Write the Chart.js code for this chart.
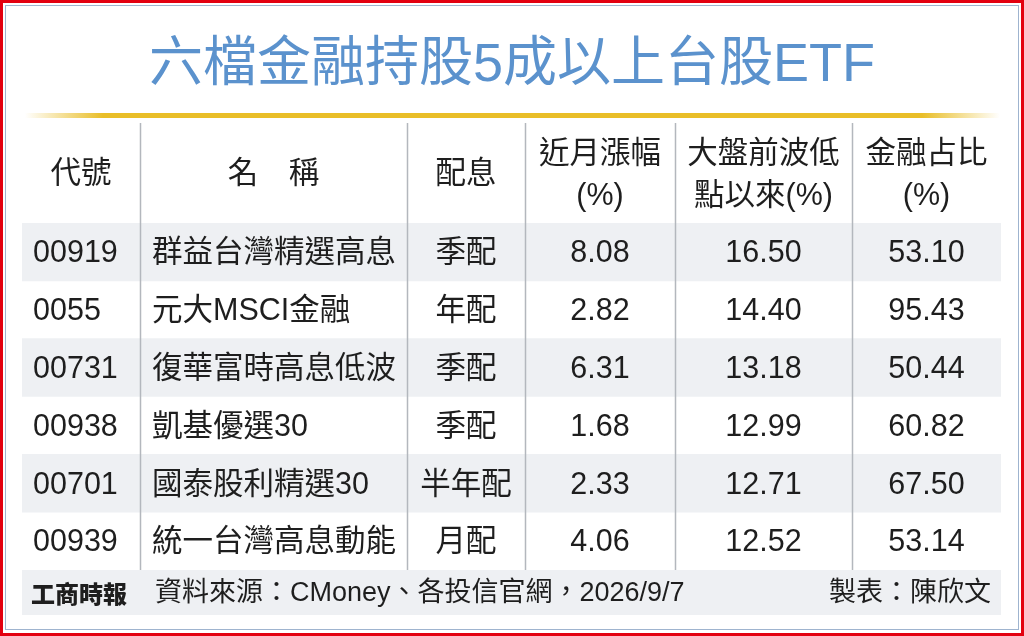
<!DOCTYPE html>
<html>
<head>
<meta charset="utf-8">
<script src="https://cdn.jsdelivr.net/npm/chart.js@4/dist/chart.umd.min.js"></script>
<style>
  html, body { margin: 0; padding: 0; background: #fff; }
  canvas { display: block; }
</style>
</head>
<body>
<canvas id="chart" width="1024" height="636"></canvas>
<script>
var title = '六檔金融持股5成以上台股ETF'
var headers = [['代號'], ['名　稱'], ['配息'], ['近月漲幅', '(%)'], ['大盤前波低', '點以來(%)'], ['金融占比', '(%)']]
var codes = ['00919', '0055', '00731', '00938', '00701', '00939']
var names = ['群益台灣精選高息', '元大MSCI金融', '復華富時高息低波', '凱基優選30', '國泰股利精選30', '統一台灣高息動能']
var payout = ['季配', '年配', '季配', '季配', '半年配', '月配']
var monthChange = [8.08, 2.82, 6.31, 1.68, 2.33, 4.06]
var sinceLow = [16.50, 14.40, 13.18, 12.99, 12.71, 12.52]
var financeShare = [53.10, 95.43, 50.44, 60.82, 67.50, 53.14]
var brand = '工商時報'
var source = '資料來源：CMoney、各投信官網，2026/9/7'
var maker = '製表：陳欣文'

// layout: column edges in x-scale units (scale runs 0..979 across the table)
var colEdges = [0, 118, 385, 503, 653, 830, 979]
var FONT = '"Liberation Sans", "Noto Sans CJK TC", sans-serif'
var INK = '#1e1e1e'
var STRIPE = '#eef0f3'

var colCenter = function (i) { return (colEdges[i] + colEdges[i + 1]) / 2 }

var tablePlugin = {
  id: 'table',
  beforeDraw: function (chart) {
    var ctx = chart.ctx
    var area = chart.chartArea
    var x = chart.scales.x
    ctx.save()
    ctx.fillStyle = '#fff'
    ctx.fillRect(0, 0, chart.width, chart.height)

    // frame
    ctx.strokeStyle = '#e3000f'
    ctx.lineWidth = 3
    ctx.strokeRect(1.5, 1.5, chart.width - 3, chart.height - 3)
    ctx.strokeStyle = '#9fb4cf'
    ctx.lineWidth = 1
    ctx.strokeRect(5.5, 5.5, chart.width - 11, chart.height - 12)

    // title
    ctx.fillStyle = '#5b92cd'
    ctx.font = '400 54px ' + FONT
    ctx.textAlign = 'center'
    ctx.textBaseline = 'middle'
    ctx.fillText(title, chart.width / 2, 66)

    // gold rule
    var g = ctx.createLinearGradient(25, 0, 1000, 0)
    g.addColorStop(0, 'rgba(233,190,40,0)')
    g.addColorStop(0.08, '#e9be28')
    g.addColorStop(0.92, '#e9be28')
    g.addColorStop(1, 'rgba(233,190,40,0)')
    ctx.fillStyle = g
    ctx.fillRect(25, 113, 975, 5)

    // footer band
    ctx.fillStyle = STRIPE
    ctx.fillRect(x.getPixelForValue(0), area.bottom, x.getPixelForValue(979) - x.getPixelForValue(0), 45)
    ctx.restore()
  },
  afterDatasetsDraw: function (chart) {
    var ctx = chart.ctx
    var area = chart.chartArea
    var x = chart.scales.x
    var y = chart.scales.y
    ctx.save()

    // column separators
    ctx.strokeStyle = '#b3b7bd'
    ctx.lineWidth = 1.5
    for (var c = 1; c < colEdges.length - 1; c++) {
      var px = Math.round(x.getPixelForValue(colEdges[c])) + 0.5
      ctx.beginPath()
      ctx.moveTo(px, area.top - 100)
      ctx.lineTo(px, area.bottom)
      ctx.stroke()
    }

    // header
    ctx.fillStyle = INK
    ctx.font = '30.5px ' + FONT
    ctx.textAlign = 'center'
    ctx.textBaseline = 'middle'
    headers.forEach(function (lines, i) {
      var cx = x.getPixelForValue(colCenter(i))
      if (lines.length === 1) {
        ctx.fillText(lines[0], cx, area.top - 48)
      } else {
        ctx.fillText(lines[0], cx, area.top - 68)
        ctx.fillText(lines[1], cx, area.top - 26)
      }
    })

    // body cells
    codes.forEach(function (code, i) {
      var cy = y.getPixelForValue(i) + 2
      ctx.textAlign = 'left'
      ctx.fillText(code, x.getPixelForValue(11), cy)
      ctx.fillText(names[i], x.getPixelForValue(130), cy)
      ctx.textAlign = 'center'
      ctx.fillText(payout[i], x.getPixelForValue(colCenter(2)), cy)
      ctx.fillText(monthChange[i].toFixed(2), x.getPixelForValue(colCenter(3)), cy)
      ctx.fillText(sinceLow[i].toFixed(2), x.getPixelForValue(colCenter(4)), cy)
      ctx.fillText(financeShare[i].toFixed(2), x.getPixelForValue(colCenter(5)), cy)
    })

    // footer
    var fy = area.bottom + 24
    ctx.textAlign = 'left'
    ctx.font = '900 24px "Noto Sans CJK TC", sans-serif'
    ctx.fillText(brand, 31, fy)
    ctx.font = '27px ' + FONT
    ctx.fillText(source, 155, fy)
    ctx.textAlign = 'right'
    ctx.font = '27px ' + FONT
    ctx.fillText(maker, 991, fy)
    ctx.restore()
  }
}

new Chart(document.getElementById('chart'), {
  type: 'bar',
  data: {
    labels: codes,
    datasets: [{
      // alternate row shading
      data: codes.map(function (c, i) { return i % 2 === 0 ? [colEdges[0], colEdges[colEdges.length - 1]] : null }),
      backgroundColor: STRIPE,
      borderWidth: 0,
      barPercentage: 1,
      categoryPercentage: 1
    }]
  },
  options: {
    indexAxis: 'y',
    responsive: false,
    animation: false,
    devicePixelRatio: 1,
    layout: { padding: { top: 223, bottom: 66, left: 22, right: 23 } },
    scales: {
      x: { type: 'linear', min: 0, max: 979, display: false },
      y: { type: 'category', display: false, offset: true }
    },
    plugins: { legend: { display: false }, tooltip: { enabled: false } }
  },
  plugins: [tablePlugin]
})
</script>
</body>
</html>
